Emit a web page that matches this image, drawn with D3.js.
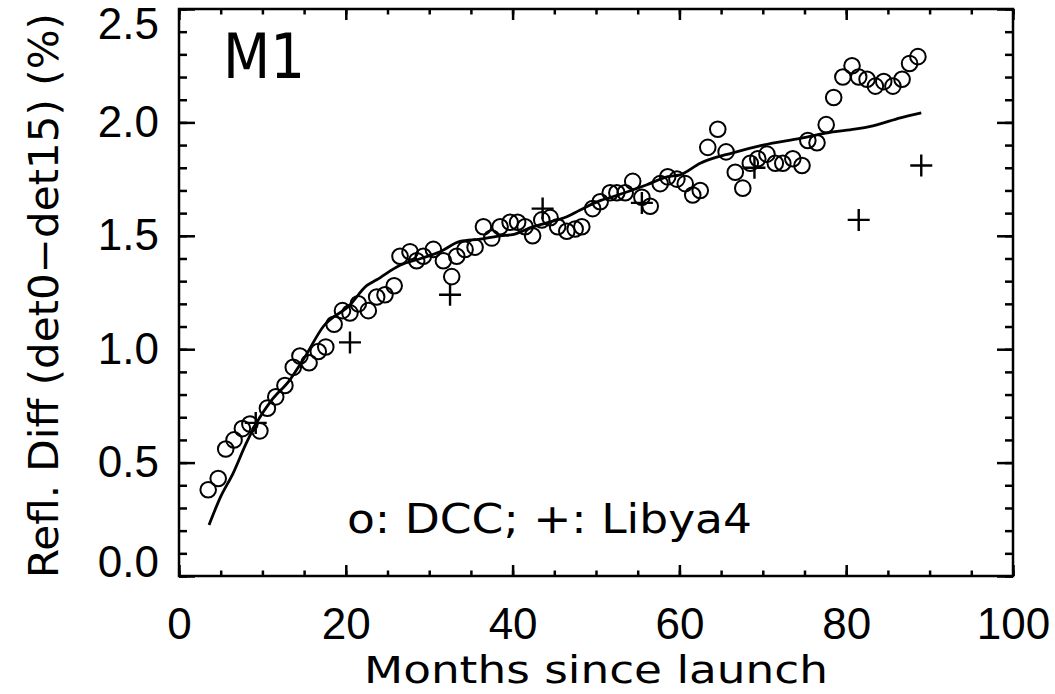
<html>
<head>
<meta charset="utf-8">
<title>M1 refl diff</title>
<script src="https://d3js.org/d3.v7.min.js"></script>
<style>
body { margin: 0; background: #fff; }
text { font-family: "DejaVu Sans", sans-serif; fill: #000; }
.axis line { stroke: #000; stroke-width: 2.5; }
.axis path { display: none; }
</style>
</head>
<body>
<script>
// DCC points (months since launch, refl. diff %)
var dccMonths = [3.5, 4.7, 5.6, 6.6, 7.6, 8.5, 9.7, 10.6, 11.6, 12.7, 13.7, 14.5, 15.6, 16.7, 17.6,
  18.6, 19.6, 20.5, 21.5, 22.7, 23.7, 24.7, 25.8, 26.5, 27.7, 28.5, 29.3, 30.5, 31.7, 32.7,
  33.3, 34.3, 35.5, 36.5, 37.5, 38.5, 39.7, 40.6, 41.5, 42.4, 43.5, 44.5, 45.4, 46.5, 47.5,
  48.3, 49.6, 50.5, 51.7, 52.5, 53.5, 54.4, 55.5, 56.5, 57.7, 58.6, 59.7, 60.7, 61.6, 62.5,
  63.4, 64.6, 65.6, 66.7, 67.6, 68.5, 69.4, 70.5, 71.5, 72.4, 73.6, 74.7, 75.4, 76.5, 77.6,
  78.5, 79.6, 80.7, 81.5, 82.5, 83.5, 84.5, 85.6, 86.7, 87.6, 88.6];
var dccValues = [0.38, 0.43, 0.56, 0.60, 0.65, 0.67, 0.64, 0.74, 0.79, 0.84, 0.92, 0.97, 0.94, 0.99, 1.01,
  1.11, 1.17, 1.16, 1.20, 1.17, 1.23, 1.24, 1.28, 1.41, 1.43, 1.39, 1.41, 1.44, 1.39, 1.32,
  1.41, 1.44, 1.45, 1.54, 1.49, 1.54, 1.56, 1.56, 1.54, 1.50, 1.57, 1.58, 1.54, 1.52, 1.53,
  1.54, 1.62, 1.65, 1.69, 1.69, 1.69, 1.74, 1.67, 1.63, 1.73, 1.76, 1.75, 1.73, 1.68, 1.70,
  1.89, 1.97, 1.87, 1.78, 1.71, 1.82, 1.84, 1.86, 1.82, 1.82, 1.84, 1.81, 1.92, 1.91, 1.99,
  2.11, 2.20, 2.25, 2.20, 2.19, 2.16, 2.18, 2.16, 2.19, 2.26, 2.29];

// Libya4 points
var libyaMonths = [9.2, 20.5, 32.5, 43.6, 55.5, 69.0, 81.5, 89.0];
var libyaValues = [0.675, 1.03, 1.24, 1.62, 1.645, 1.80, 1.57, 1.81];

// fitted curve
var fitMonths = [3.6, 5, 6.5, 8, 9.3, 11, 13.3, 15, 17.3, 20.5, 22.5, 23.7, 26.5, 29, 31.3, 33.7,
  36.1, 38.5, 40, 42.4, 44.1, 46.5, 48.1, 50.5, 52, 56.1, 58.5, 60.1, 62.5, 66.4, 70, 74.5,
  78.4, 81, 83.2, 86.5, 89];
var fitValues = [0.225, 0.35, 0.454, 0.58, 0.675, 0.77, 0.865, 0.96, 1.10, 1.195, 1.28, 1.306, 1.37,
  1.40, 1.43, 1.475, 1.485, 1.50, 1.505, 1.539, 1.557, 1.584, 1.614, 1.655, 1.672, 1.725, 1.76,
  1.769, 1.82, 1.866, 1.90, 1.93, 1.958, 1.97, 1.985, 2.02, 2.042];

var xMajor = [0, 20, 40, 60, 80, 100];
var yMajor = [0, 0.5, 1.0, 1.5, 2.0, 2.5];

var W = 1055, H = 694;
var margin = {left: 179, right: 1013, top: 9, bottom: 576};

var x = d3.scaleLinear().domain([0, 100]).range([margin.left, margin.right]);
var y = d3.scaleLinear().domain([0, 2.5]).range([margin.bottom, margin.top]);

var svg = d3.select("body").append("svg")
    .attr("width", W)
    .attr("height", H);

var xMinor = d3.range(0, 101, 5);
var yMinor = d3.range(0, 26).map(function(i) { return i / 10; });

// bottom axis
svg.append("g").attr("class", "axis")
    .attr("transform", "translate(0," + margin.bottom + ")")
    .call(d3.axisBottom(x).tickValues(xMinor).tickSize(-5.5).tickFormat(""));
svg.append("g").attr("class", "axis xlab")
    .attr("transform", "translate(0," + margin.bottom + ")")
    .call(d3.axisBottom(x).tickValues(xMajor).tickSize(-11).tickPadding(32).tickFormat(d3.format("d")));
// top axis
svg.append("g").attr("class", "axis")
    .attr("transform", "translate(0," + margin.top + ")")
    .call(d3.axisTop(x).tickValues(xMinor).tickSize(-5.5).tickFormat(""));
svg.append("g").attr("class", "axis")
    .attr("transform", "translate(0," + margin.top + ")")
    .call(d3.axisTop(x).tickValues(xMajor).tickSize(-11).tickFormat(""));
// left axis
svg.append("g").attr("class", "axis")
    .attr("transform", "translate(" + margin.left + ",0)")
    .call(d3.axisLeft(y).tickValues(yMinor).tickSize(-8).tickFormat(""));
svg.append("g").attr("class", "axis ylab")
    .attr("transform", "translate(" + margin.left + ",0)")
    .call(d3.axisLeft(y).tickValues(yMajor).tickSize(-16).tickPadding(20).tickFormat(d3.format(".1f")));
// right axis
svg.append("g").attr("class", "axis")
    .attr("transform", "translate(" + margin.right + ",0)")
    .call(d3.axisRight(y).tickValues(yMinor).tickSize(-8).tickFormat(""));
svg.append("g").attr("class", "axis")
    .attr("transform", "translate(" + margin.right + ",0)")
    .call(d3.axisRight(y).tickValues(yMajor).tickSize(-16).tickFormat(""));

svg.selectAll(".xlab text, .ylab text")
    .style("font-size", "44px")
    .style("font-family", "Liberation Sans");

// end labels pulled inside the frame like the original
svg.selectAll(".ylab .tick text")
    .attr("dy", function(d) {
      if (d === 0) return "0.0em";
      if (d === 2.5) return "0.68em";
      return "0.32em";
    });

// frame
svg.append("rect")
    .attr("x", margin.left).attr("y", margin.top)
    .attr("width", margin.right - margin.left).attr("height", margin.bottom - margin.top)
    .attr("fill", "none")
    .attr("stroke", "#000")
    .attr("stroke-width", 2.5);

// fit line
var fitData = fitMonths.map(function(m, i) { return [m, fitValues[i]]; });
svg.append("path")
    .datum(fitData)
    .attr("fill", "none")
    .attr("stroke", "#000")
    .attr("stroke-width", 2.8)
    .attr("d", d3.line().curve(d3.curveMonotoneX)
      .x(function(d) { return x(d[0]); })
      .y(function(d) { return y(d[1]); }));

// DCC circles
svg.selectAll(".dcc")
    .data(dccMonths)
  .enter().append("circle")
    .attr("class", "dcc")
    .attr("cx", function(d) { return x(d); })
    .attr("cy", function(d, i) { return y(dccValues[i]); })
    .attr("r", 7.8)
    .attr("fill", "none")
    .attr("stroke", "#000")
    .attr("stroke-width", 2);

// Libya4 plus signs
var pl = 11;
svg.selectAll(".libya")
    .data(libyaMonths)
  .enter().append("path")
    .attr("class", "libya")
    .attr("fill", "none")
    .attr("stroke", "#000")
    .attr("stroke-width", 2.4)
    .attr("d", function(d, i) {
      var cx = x(d), cy = y(libyaValues[i]);
      return "M" + (cx - pl) + "," + cy + "H" + (cx + pl) +
             "M" + cx + "," + (cy - pl) + "V" + (cy + pl);
    });

// panel label
svg.append("text")
    .attr("x", 223).attr("y", 78)
    .attr("textLength", 82)
    .attr("lengthAdjust", "spacingAndGlyphs")
    .style("font-size", "63px")
    .text("M1");

// legend
svg.append("text")
    .attr("x", 347).attr("y", 533)
    .attr("textLength", 405)
    .attr("lengthAdjust", "spacingAndGlyphs")
    .style("font-size", "41px")
    .text("o: DCC; +: Libya4");

// x axis title
svg.append("text")
    .attr("x", 364).attr("y", 683)
    .attr("textLength", 464)
    .attr("lengthAdjust", "spacingAndGlyphs")
    .style("font-size", "37px")
    .text("Months since launch");

// y axis title
svg.append("text")
    .attr("transform", "translate(58," + 578 + ") rotate(-90)")
    .attr("textLength", 565)
    .attr("lengthAdjust", "spacingAndGlyphs")
    .style("font-size", "40px")
    .text("Refl. Diff (det0\u2212det15) (%)");
</script>
</body>
</html>
